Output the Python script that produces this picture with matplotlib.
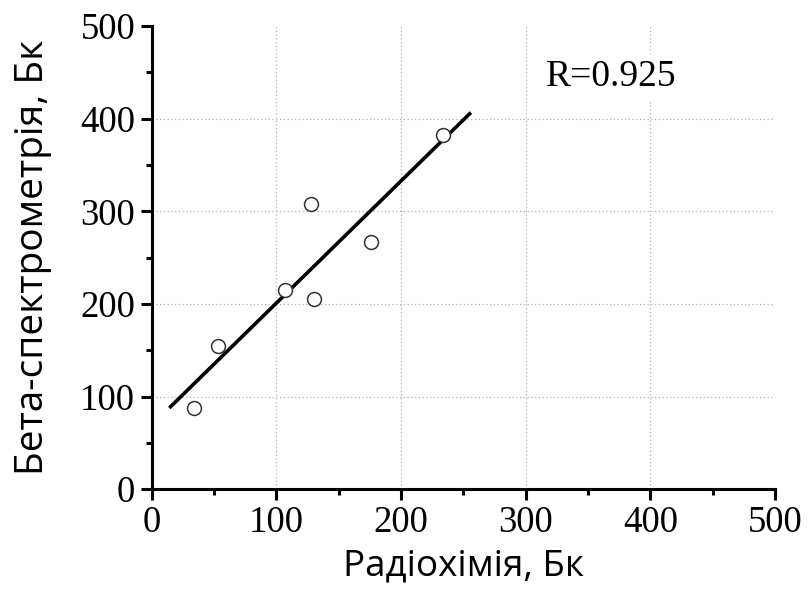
import numpy as np
import matplotlib
matplotlib.use("Agg")
import matplotlib.pyplot as plt
from matplotlib.ticker import MultipleLocator

# Data
radiochem = [34, 53, 107, 128, 130, 176, 234]
beta_spec = [88, 155, 215, 308, 205, 267, 383]
fit_range = [15, 255]
r_label = "R=0.925"
x_label = "Радіохімія, Бк"
y_label = "Бета-спектрометрія, Бк"
major_ticks = [0, 100, 200, 300, 400, 500]

fig = plt.figure(figsize=(8.08, 5.95), dpi=100)
ax = fig.add_axes([0.188, 0.178, 0.771, 0.778])

slope, intercept = np.polyfit(radiochem, beta_spec, 1)
xf = np.array(fit_range, dtype=float)
ax.plot(xf, slope * xf + intercept, color="black", lw=2.6, zorder=3)
ax.plot(radiochem, beta_spec, ls="none", marker="o", ms=10, mfc="white",
        mec="#333333", mew=1.1, zorder=4)

ax.set_xlim(0, 500)
ax.set_ylim(0, 500)
ax.set_xticks(major_ticks)
ax.set_yticks(major_ticks)
ax.xaxis.set_minor_locator(MultipleLocator(50))
ax.yaxis.set_minor_locator(MultipleLocator(50))

for v in major_ticks[1:-1]:
    ax.axvline(v, color="#b0b0b0", ls=(0, (1, 2)), lw=0.9, zorder=1)
    ax.axhline(v, color="#b0b0b0", ls=(0, (1, 2)), lw=0.9, zorder=1)

for s in ["top", "right"]:
    ax.spines[s].set_visible(False)
for s in ["left", "bottom"]:
    ax.spines[s].set_linewidth(2.2)

ax.tick_params(which="major", direction="out", length=8, width=2.2,
               labelsize=26.5, pad=4)
ax.tick_params(which="minor", direction="out", length=4, width=2.2)
for lab in ax.get_xticklabels() + ax.get_yticklabels():
    lab.set_family("Liberation Serif")

ax.set_xlabel(x_label, fontsize=26.5, family="Open Sans", labelpad=6)
ax.set_ylabel(y_label, fontsize=28, family="Open Sans", labelpad=20)

ax.text(316, 445, r_label, fontsize=27, family="Liberation Serif",
        va="center", ha="left", zorder=5,
        bbox=dict(facecolor="white", edgecolor="none", pad=4))

fig.savefig("out.png", dpi=100)
